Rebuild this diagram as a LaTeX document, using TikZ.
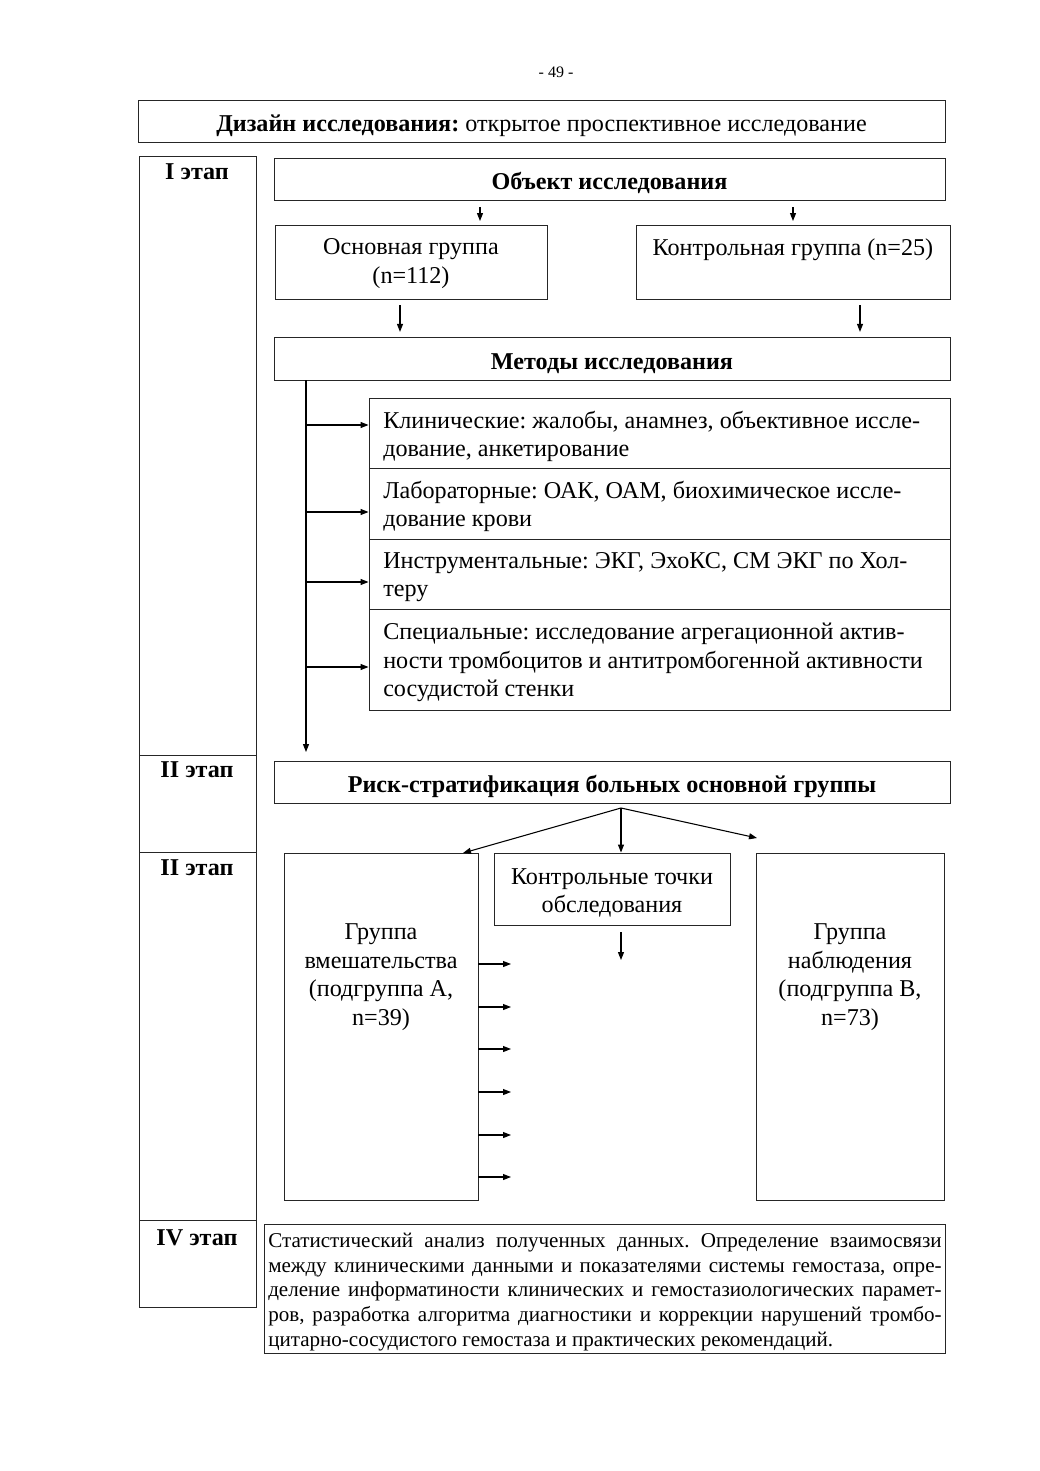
\documentclass[tikz,border=0pt]{standalone}
\usepackage{fontspec}
\setmainfont{Liberation Serif}
\usetikzlibrary{arrows.meta,calc}
\newlength{\statw}
\setlength{\statw}{505pt}
\frenchspacing
\begin{document}
\begin{tikzpicture}[x=0.75pt,y=-0.75pt,
  box/.style={draw=black!85, line width=0.7pt, inner sep=0pt},
  onel/.style={text height=16pt, text depth=0pt},
  arr/.style={-{Triangle[length=6pt,width=4.5pt]}, line width=0.8pt},
  every node/.style={font=\fontsize{18.1}{21.4}\selectfont},
  stagetxt/.style={font=\bfseries\fontsize{18.1}{21.4}\selectfont, anchor=center},
  methtxt/.style={align=left, anchor=west, inner sep=0pt}
]
\useasboundingbox (0,0) rectangle (1039,1471);

\node[font=\fontsize{12}{14}\selectfont] (pg) at (556,72) {- 49 -};

% design
\node[box, onel, minimum width=807*0.75pt, minimum height=42*0.75pt] (design) at (541.5,121)
  {\textbf{Дизайн исследования:} открытое проспективное исследование};

% stage column
\node[box, minimum width=117*0.75pt, minimum height=599*0.75pt] (st1) at (197.5,455.5) {};
\node[box, minimum width=117*0.75pt, minimum height=97*0.75pt] (st2) at (197.5,803.5) {};
\node[box, minimum width=117*0.75pt, minimum height=368*0.75pt] (st3) at (197.5,1036) {};
\node[box, minimum width=117*0.75pt, minimum height=87*0.75pt] (st4) at (197.5,1263.5) {};
\node[stagetxt] (st1t) at (197,172) {I этап};
\node[stagetxt] (st2t) at (197,770) {II этап};
\node[stagetxt] (st3t) at (197,868) {II этап};
\node[stagetxt] (st4t) at (197,1238) {IV этап};

% stage I
\node[box, onel, minimum width=671*0.75pt, minimum height=42*0.75pt, font=\bfseries\fontsize{18.1}{21.4}\selectfont] (obj) at (609.5,179) {Объект исследования};
\node[box, minimum width=272*0.75pt, minimum height=74*0.75pt] (maing) at (411,262) {};
\node[align=center] (maingt) at (411,263.5) {Основная группа\\(n=112)};
\node[box, minimum width=314*0.75pt, minimum height=74*0.75pt] (ctrl) at (793,262) {};
\node (ctrlt) at (793,250) {Контрольная группа (n=25)};
\node[box, onel, minimum width=676*0.75pt, minimum height=43*0.75pt, font=\bfseries\fontsize{18.1}{21.4}\selectfont] (meth) at (612,358.5) {Методы исследования};

\coordinate (t1) at (480,221);
\coordinate (t2) at (793,221);
\draw[arr, shorten <=5pt] (obj.south -| t1) -- (t1);
\draw[arr, shorten <=5pt] (obj.south -| t2) -- (t2);
\coordinate (t3) at (400,320);
\coordinate (t4) at (860,320);
\draw[arr, shorten <=4.5pt, shorten >=3.5pt] (maing.south -| t3) -- (meth.north -| t3);
\draw[arr, shorten <=4.5pt, shorten >=3.5pt] (ctrl.south -| t4) -- (meth.north -| t4);

% method boxes
\node[box, minimum width=581*0.75pt, minimum height=70*0.75pt] (m1) at (659.5,433) {};
\node[box, minimum width=581*0.75pt, minimum height=71*0.75pt] (m2) at (659.5,503.5) {};
\node[box, minimum width=581*0.75pt, minimum height=70*0.75pt] (m3) at (659.5,574) {};
\node[box, minimum width=581*0.75pt, minimum height=101*0.75pt] (m4) at (659.5,659.5) {};
\node[methtxt] (m1t) at (383,436.5) {Клинические: жалобы, анамнез, объективное иссле-\\дование, анкетирование};
\node[methtxt] (m2t) at (383,506.5) {Лабораторные: ОАК, ОАМ, биохимическое иссле-\\дование крови};
\node[methtxt] (m3t) at (383,577) {Инструментальные: ЭКГ, ЭхоКС, СМ ЭКГ по Хол-\\теру};
\node[methtxt] (m4t) at (383,662.5) {Специальные: исследование агрегационной актив-\\ности тромбоцитов и антитромбогенной активности\\сосудистой стенки};

\coordinate (v) at (306,380);
\coordinate (vend) at (306,752);
\draw[arr] (meth.south -| v) -- (vend);
\coordinate (a1) at ($(m1.west)+(0,-8)$);
\coordinate (a2) at ($(m2.west)+(0,8.5)$);
\coordinate (a3) at ($(m3.west)+(0,8)$);
\coordinate (a4) at ($(m4.west)+(0,7.5)$);
\foreach \a in {a1,a2,a3,a4} \draw[arr] (\a -| v) -- (\a);

% stage II
\node[box, onel, minimum width=676*0.75pt, minimum height=42*0.75pt, font=\bfseries\fontsize{18.1}{21.4}\selectfont] (risk) at (612,782) {Риск-стратификация больных основной группы};

% stage III
\node[box, minimum width=194*0.75pt, minimum height=347*0.75pt] (ga) at (381,1026.5) {};
\node[align=center] (gat) at (381,977) {Группа\\вмешательства\\(подгруппа А,\\n=39)};
\node[box, minimum width=236*0.75pt, minimum height=72*0.75pt] (kt) at (612,889) {};
\node[align=center] (ktt) at (612,893) {Контрольные точки\\обследования};
\node[box, minimum width=188*0.75pt, minimum height=347*0.75pt] (gb) at (850,1026.5) {};
\node[align=center] (gbt) at (850,977) {Группа\\наблюдения\\(подгруппа В,\\n=73)};

\coordinate (rs) at (621,808);
\coordinate (ra) at (463,853);
\coordinate (rb) at (757,838);
\draw[arr] (rs) -- (ra);
\draw[arr] (rs) -- (rs |- kt.north);
\draw[arr] (rs) -- (rb);
\coordinate (kd) at (621,960);
\draw[arr, shorten <=5pt] (kt.south -| kd) -- (kd);

\foreach \yy [count=\i] in {964,1007,1049,1092,1135,1177} {
  \coordinate (e\i) at (511,\yy);
  \draw[arr] (ga.east |- e\i) -- (e\i);
}

% stage IV
\node[box, minimum width=681*0.75pt, minimum height=129*0.75pt] (stat) at (604.5,1288.5) {};
\node[anchor=north west, inner sep=0pt, align=left, font=\fontsize{15.8}{18.6}\selectfont] (statt) at (268,1232.5) {%
\makebox[\statw][s]{Статистический анализ полученных данных. Определение взаимосвязи}\\
\makebox[\statw][s]{между клиническими данными и показателями системы гемостаза, опре-}\\
\makebox[\statw][s]{деление информатиности клинических и гемостазиологических парамет-}\\
\makebox[\statw][s]{ров, разработка алгоритма диагностики и коррекции нарушений тромбо-}\\
цитарно-сосудистого гемостаза и практических рекомендаций.};
\end{tikzpicture}
\end{document}
